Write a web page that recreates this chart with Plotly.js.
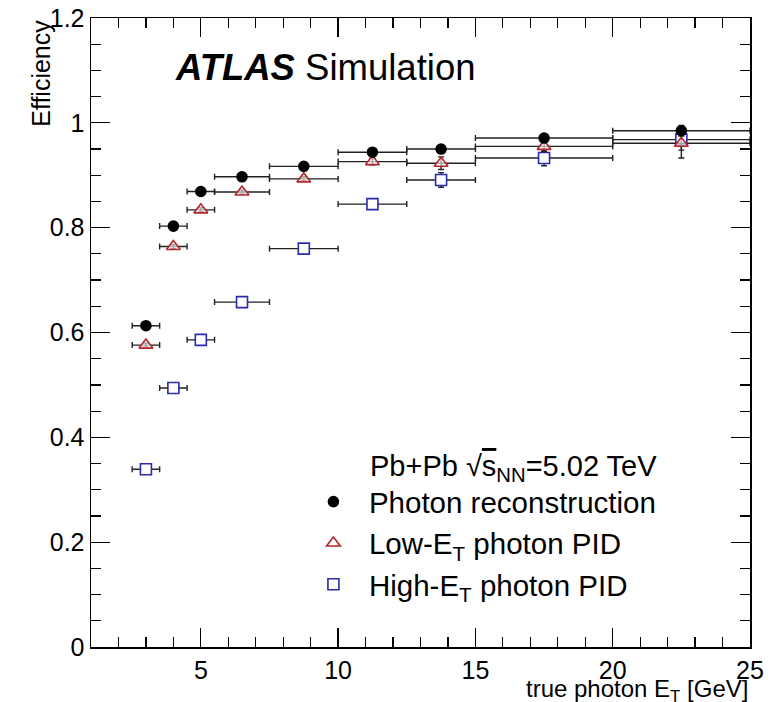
<!DOCTYPE html>
<html>
<head>
<meta charset="utf-8">
<script src="https://cdn.plot.ly/plotly-3.0.1.min.js"></script>
<style>html,body{margin:0;padding:0;background:#fff;}#chart{width:772px;height:702px;}</style>
</head>
<body>
<div id="chart"></div>
<script>
// Bin centres and half-widths (true photon E_T [GeV])
const binCenters = [3, 4, 5, 6.5, 8.75, 11.25, 13.75, 17.5, 22.5];
const binHalfWidths = [0.5, 0.5, 0.5, 1, 1.25, 1.25, 1.25, 2.5, 2.5];

// Photon reconstruction efficiency
const recoEff = [0.613, 0.803, 0.869, 0.897, 0.917, 0.944, 0.950, 0.971, 0.985];
const recoErr = [0.003, 0.003, 0.003, 0.003, 0.003, 0.004, 0.006, 0.007, 0.010];

// Low-E_T photon PID efficiency
const lowEff = [0.576, 0.764, 0.834, 0.868, 0.893, 0.926, 0.923, 0.955, 0.961];
const lowErr = [0.004, 0.004, 0.004, 0.004, 0.004, 0.006, 0.012, 0.010, 0.028];

// High-E_T photon PID efficiency
const highEff = [0.339, 0.494, 0.586, 0.658, 0.760, 0.845, 0.891, 0.933, 0.968];
const highErr = [0.004, 0.004, 0.004, 0.004, 0.005, 0.006, 0.014, 0.015, 0.020];

const seriesNames = ["Photon reconstruction", "Low-E<sub>T</sub> photon PID", "High-E<sub>T</sub> photon PID"];
const xTickVals = [5, 10, 15, 20, 25];
const yTickVals = [0, 0.2, 0.4, 0.6, 0.8, 1, 1.2];

const FONT = "Liberation Sans, Arial, Helvetica, sans-serif";

function mk(y, err, name, symbol, fill, color, size, group) {
  return {
    type: "scatter", mode: "markers", x: binCenters, y: y, name: name,
    legendgroup: group,
    marker: {symbol: symbol, color: fill, size: size, line: {color: color, width: 1.6}},
    error_x: {type: "data", array: binHalfWidths, arrayminus: binHalfWidths, color: "#222", thickness: 1.4, width: 3},
    error_y: {type: "data", array: err, color: "#222", thickness: 1.4, width: 3},
    cliponaxis: false
  };
}

const traces = [
  mk(highEff, highErr, seriesNames[2], "square", "#ffffff", "#2a2ab0", 11, "c"),
  mk(lowEff, lowErr, seriesNames[1], "triangle-up", "rgba(255,255,255,0.6)", "#b3262b", 12, "b"),
  mk(recoEff, recoErr, seriesNames[0], "circle", "#000000", "#000000", 10, "a")
];

const axisCommon = {
  showgrid: false, zeroline: false, showline: true, linecolor: "#000", linewidth: 1.5,
  mirror: "allticks", ticks: "inside", ticklen: 19, tickwidth: 1.3, tickcolor: "#000",
  tickfont: {family: FONT, size: 25, color: "#000"}
};

const layout = {
  width: 772, height: 702,
  margin: {l: 91, r: 22, t: 18, b: 55},
  paper_bgcolor: "#fff", plot_bgcolor: "#fff",
  showlegend: true,
  legend: {
    x: 0.314, y: 0.272, xanchor: "left", yanchor: "top",
    traceorder: "reversed", itemwidth: 61,
    font: {family: FONT, size: 29.5, color: "#000"},
    bgcolor: "rgba(0,0,0,0)", tracegroupgap: 0
  },
  xaxis: Object.assign({}, axisCommon, {
    range: [1, 25], tickvals: xTickVals,
    minor: {dtick: 1, tick0: 0, ticks: "inside", ticklen: 10, tickwidth: 1.2, tickcolor: "#000"}
  }),
  yaxis: Object.assign({}, axisCommon, {
    range: [0, 1.2], tickvals: yTickVals, ticktext: yTickVals.map(v => String(v)),
    minor: {dtick: 0.05, tick0: 0, ticks: "inside", ticklen: 10, tickwidth: 1.2, tickcolor: "#000"}
  }),
  annotations: [
    {xref: "paper", yref: "paper", x: 0.124, y: 0.921, xanchor: "left", yanchor: "middle", showarrow: false,
     text: "<b><i>ATLAS</i></b> Simulation", font: {family: FONT, size: 36.5, color: "#000"}},
    {xref: "paper", yref: "paper", x: 0.421, y: 0.284, xanchor: "left", yanchor: "middle", showarrow: false,
     text: "Pb+Pb √<span style=\"text-decoration:overline\">s</span><sub>NN</sub>=5.02 TeV", font: {family: FONT, size: 29, color: "#000"}},
    {xref: "paper", yref: "paper", x: 1, y: -0.0685, xanchor: "right", yanchor: "middle", showarrow: false,
     text: "true photon E<sub>T</sub> [GeV]", font: {family: FONT, size: 24, color: "#000"}},
    {xref: "paper", yref: "paper", x: -0.077, y: 1.0, xanchor: "center", yanchor: "top", showarrow: false, textangle: -90,
     text: "Efficiency", font: {family: FONT, size: 25, color: "#000"}}
  ]
};

Plotly.newPlot("chart", traces, layout, {displayModeBar: false, staticPlot: true});
</script>
</body>
</html>
